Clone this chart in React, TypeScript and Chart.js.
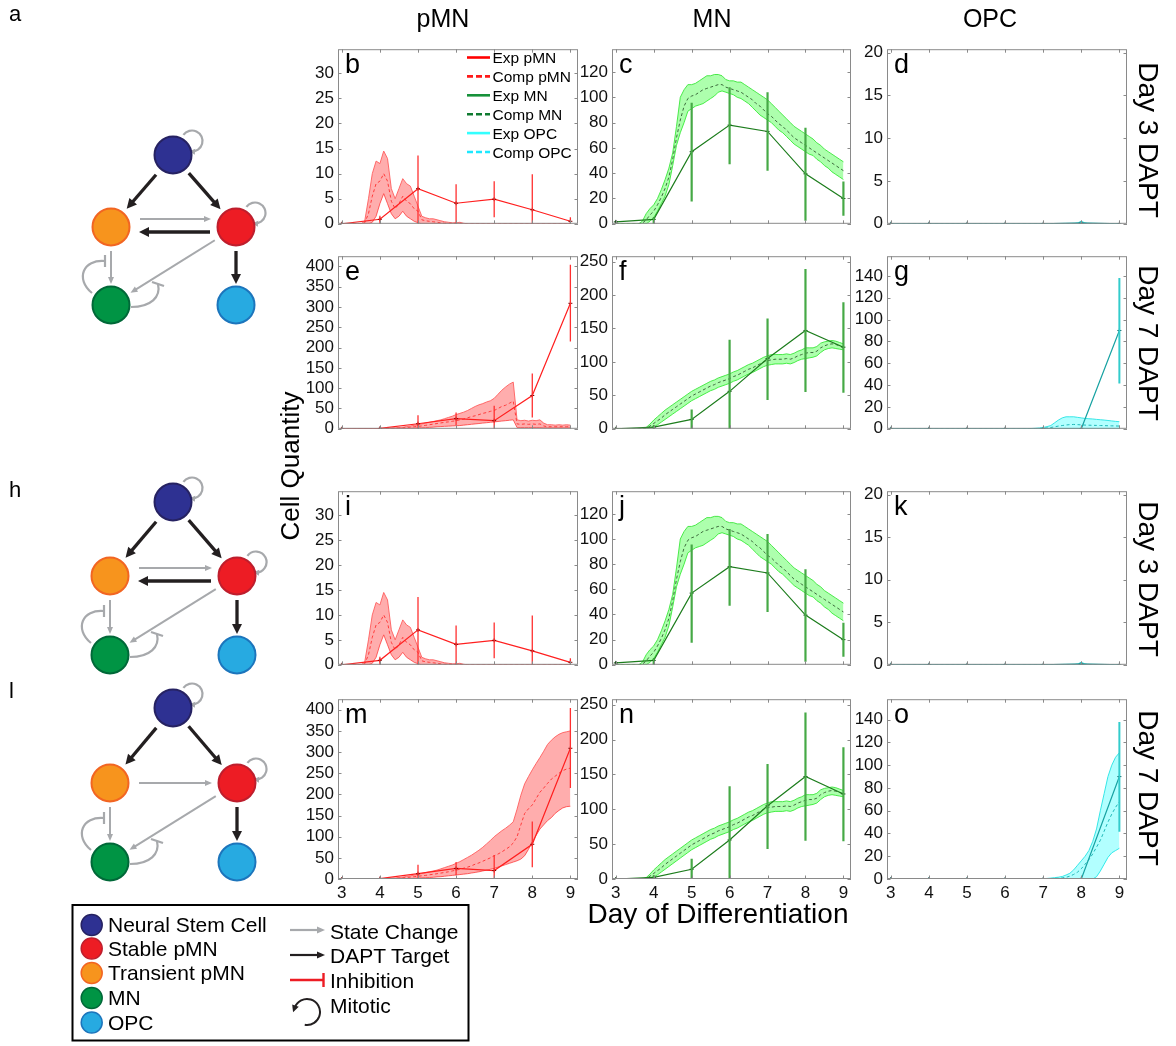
import React, { useEffect, useRef } from "react";
import { Chart, registerables } from "chart.js";

Chart.register(...registerables);

const FONT = '"Liberation Sans", Arial, Helvetica, sans-serif';
Chart.defaults.font.family = FONT;
Chart.defaults.color = "#111";

// ---------------- data ----------------
const X_TICKS = [3, 4, 5, 6, 7, 8, 9];
const DAYS = [3, 4, 5, 6, 7, 8, 9];
const COMP_DAYS = [
  3.0, 3.1, 3.2, 3.3, 3.4, 3.5, 3.6, 3.7, 3.8, 3.9,
  4.0, 4.1, 4.2, 4.3, 4.4, 4.5, 4.6, 4.7, 4.8, 4.9,
  5.0, 5.1, 5.2, 5.3, 5.4, 5.5, 5.6, 5.7, 5.8, 5.9,
  6.0, 6.1, 6.2, 6.3, 6.4, 6.5, 6.6, 6.7, 6.8, 6.9,
  7.0, 7.1, 7.2, 7.3, 7.4, 7.5, 7.6, 7.7, 7.8, 7.9,
  8.0, 8.1, 8.2, 8.3, 8.4, 8.5, 8.6, 8.7, 8.8, 8.9,
  9.0,
];

const Y_PMN_D3 = [0, 5, 10, 15, 20, 25, 30];
const Y_MN_D3 = [0, 20, 40, 60, 80, 100, 120];
const Y_OPC_D3 = [0, 5, 10, 15, 20];
const Y_PMN_D7 = [0, 50, 100, 150, 200, 250, 300, 350, 400];
const Y_MN_D7 = [0, 50, 100, 150, 200, 250];
const Y_OPC_D7 = [0, 20, 40, 60, 80, 100, 120, 140];

// experimental means and error bar ends (Day 3 DAPT)
const EXP_PMN_D3 = [0, 0.9, 7, 4.1, 4.9, 2.8, 0.5];
const EXP_PMN_D3_LO = [null, 0, 0, 0, 1.3, 0, 0];
const EXP_PMN_D3_HI = [null, 1.6, 13.6, 7.9, 8.5, 9.9, 1.3];
const EXP_MN_D3 = [1.5, 3.5, 57, 78, 73, 39.5, 20];
const EXP_MN_D3_LO = [null, 0, 17.6, 47, 42, 2.5, 6.3];
const EXP_MN_D3_HI = [null, 5, 95.6, 108, 104, 76, 33.5];
const EXP_OPC_D3 = [0, 0, 0, 0, 0, 0.1, 0];
const EXP_OPC_D3_LO = [null, null, null, null, null, 0, null];
const EXP_OPC_D3_HI = [null, null, null, null, null, 0.3, null];
// experimental (Day 7 DAPT)
const EXP_PMN_D7 = [0, 1, 12.5, 25, 20, 82, 309];
const EXP_PMN_D7_LO = [null, null, 0, 8.6, 0, 28, 215];
const EXP_PMN_D7_HI = [null, null, 33.5, 40, 57, 136, 404];
const EXP_MN_D7 = [0, 2.4, 14, 56, 105, 147, 122];
const EXP_MN_D7_LO = [null, 0, 0, 0, 43, 55, 54];
const EXP_MN_D7_HI = [null, 5, 29, 133, 165, 239, 189];
const EXP_OPC_D7 = [0, 0, 0, 0, 0, 0, 90];
const EXP_OPC_D7_LO = [null, null, null, null, null, null, 41.5];
const EXP_OPC_D7_HI = [null, null, null, null, null, null, 138];

// computational results (mean, lower, upper) on COMP_DAYS
const COMP_B_MEAN = [
  0, 0, 0, 0, 0, 0, 0.2, 2, 5.5, 8,
  8.5, 10, 8.5, 4.5, 3, 4, 5.5, 4.5, 4, 3,
  2.5, 0.8, 0.6, 0.5, 0.4, 0.3, 0.2, 0.1, 0.1, 0.1,
  0.1, 0.1, 0, 0, 0, 0, 0, 0, 0, 0,
  0, 0, 0, 0, 0, 0, 0, 0, 0, 0,
  0, 0, 0, 0, 0, 0, 0, 0, 0, 0,
  0,
];
const COMP_B_LO = [
  0, 0, 0, 0, 0, 0, 0, 0, 0.3, 1.5,
  4, 6, 4, 2, 1, 1.5, 2.5, 1.5, 1, 0.5,
  0.2, 0, 0, 0, 0, 0, 0, 0, 0, 0,
  0, 0, 0, 0, 0, 0, 0, 0, 0, 0,
  0, 0, 0, 0, 0, 0, 0, 0, 0, 0,
  0, 0, 0, 0, 0, 0, 0, 0, 0, 0,
  0,
];
const COMP_B_HI = [
  0, 0, 0, 0, 0, 0, 0.5, 5, 10, 12.5,
  12, 14.5, 13, 7, 5, 7, 9, 8, 7.5, 5.5,
  3.5, 1.5, 1.2, 1, 1, 0.8, 0.6, 0.4, 0.3, 0.2,
  0.2, 0.3, 0.1, 0, 0, 0, 0, 0, 0, 0,
  0, 0, 0, 0, 0, 0, 0, 0, 0, 0,
  0, 0, 0, 0, 0, 0, 0, 0, 0, 0,
  0,
];

const COMP_C_MEAN = [
  0, 0, 0, 0, 0, 0, 0, 0.5, 3, 7,
  10, 15, 21, 28, 37, 51, 68, 82, 93, 99,
  101, 102, 104, 106, 107, 108, 109, 110, 110, 108,
  107, 106, 105, 104, 102, 100, 98, 95, 93, 90,
  87, 85, 82, 79, 77, 74, 71, 68, 66, 64,
  62, 60, 58, 56, 54, 52, 50, 48, 46, 44,
  42,
];
const COMP_C_LO = [
  0, 0, 0, 0, 0, 0, 0, 0, 0, 2,
  5, 10, 16, 22, 31, 46, 62, 72, 80, 89,
  91, 93, 94, 95, 97, 99, 101, 104, 105, 104,
  103, 102, 100, 99, 97, 95, 92, 89, 86, 84,
  82, 80, 77, 74, 72, 69, 66, 63, 61, 59,
  57, 55, 54, 51, 49, 46, 44, 41, 39, 37,
  35,
];
const COMP_C_HI = [
  0, 0, 0, 0, 0, 0, 0, 2, 8, 12,
  15, 20, 27, 35, 44, 56, 77, 100, 106, 110,
  110, 111, 113, 115, 117, 117, 118, 118, 117, 114,
  113, 113, 112, 112, 110, 108, 106, 104, 102, 100,
  98, 95, 92, 89, 86, 83, 80, 77, 75, 73,
  71, 69, 67, 64, 62, 59, 57, 55, 53, 51,
  49,
];

const COMP_D_MEAN = [
  0, 0, 0, 0, 0, 0, 0, 0, 0, 0,
  0, 0, 0, 0, 0, 0, 0, 0, 0, 0,
  0, 0, 0, 0, 0, 0, 0, 0, 0, 0,
  0, 0, 0, 0, 0, 0, 0, 0, 0, 0,
  0, 0, 0, 0, 0, 0, 0, 0, 0, 0,
  0.1, 0, 0, 0, 0, 0, 0, 0, 0, 0,
  0,
];
const COMP_D_LO = [
  0, 0, 0, 0, 0, 0, 0, 0, 0, 0,
  0, 0, 0, 0, 0, 0, 0, 0, 0, 0,
  0, 0, 0, 0, 0, 0, 0, 0, 0, 0,
  0, 0, 0, 0, 0, 0, 0, 0, 0, 0,
  0, 0, 0, 0, 0, 0, 0, 0, 0, 0,
  0, 0, 0, 0, 0, 0, 0, 0, 0, 0,
  0,
];
const COMP_D_HI = [
  0, 0, 0, 0, 0, 0, 0, 0, 0, 0,
  0, 0, 0, 0, 0, 0, 0, 0, 0, 0,
  0, 0, 0, 0, 0, 0, 0, 0, 0, 0,
  0, 0, 0, 0, 0, 0, 0, 0, 0, 0,
  0, 0, 0, 0, 0, 0, 0, 0, 0, 0.1,
  0.3, 0.1, 0, 0, 0, 0, 0, 0, 0, 0,
  0,
];

const COMP_E_MEAN = [
  0, 0, 0, 0, 0, 0, 0, 0, 0, 0,
  0.2, 0.5, 0.8, 1, 1.5, 2, 2.5, 3.2, 4, 5,
  6, 7, 8.5, 10, 11.5, 13, 14.5, 16, 17, 18.5,
  20, 22, 24, 27, 30, 32, 35, 38, 40, 43,
  45, 50, 55, 58, 63, 68, 12, 11, 12, 11,
  12, 11, 12, 7, 5, 5, 5, 5, 5, 5,
  5,
];
const COMP_E_LO = [
  0, 0, 0, 0, 0, 0, 0, 0, 0, 0,
  0, 0, 0, 0.2, 0.3, 0.5, 0.7, 1, 1.2, 1.5,
  2, 2.5, 3, 3.5, 4, 5, 5.5, 6, 6.5, 7,
  7.5, 8, 9, 10, 11, 12, 13, 14, 15, 16,
  17, 18, 19, 20, 21, 22, 3, 3, 3, 3,
  3, 3, 3, 2, 2, 2, 2, 2, 2, 2,
  2,
];
const COMP_E_HI = [
  0, 0, 0, 0, 0, 0, 0, 0, 0, 0,
  0.5, 1, 1.5, 2, 2.5, 3, 4, 5.5, 7, 8.5,
  10, 12, 14, 16, 18, 20, 22, 25, 28, 31,
  35, 38, 41, 45, 50, 55, 59, 62, 66, 69,
  75, 85, 95, 103, 110, 115, 22, 20, 21, 19,
  21, 20, 22, 14, 10, 10, 9, 10, 9, 10,
  9,
];

const COMP_F_MEAN = [
  0, 0, 0, 0, 0, 0, 0, 0, 1, 4,
  8, 12, 16, 21, 25, 29, 33, 37, 41, 45,
  49, 52, 55, 58, 61, 64, 66, 69, 71, 73,
  75, 78, 80, 83, 86, 89, 91, 94, 97, 100,
  102, 103, 104, 104, 104, 105, 104, 106, 109, 111,
  113, 114, 114, 116, 121, 124, 126, 127, 126, 124,
  122,
];
const COMP_F_LO = [
  0, 0, 0, 0, 0, 0, 0, 0, 0, 1,
  3, 6, 10, 14, 18, 22, 26, 30, 34, 38,
  42, 45, 48, 51, 54, 57, 59, 62, 64, 66,
  68, 71, 73, 76, 79, 82, 84, 87, 90, 93,
  95, 96, 97, 97, 97, 98, 97, 99, 102, 104,
  105, 106, 107, 109, 114, 118, 120, 121, 120, 119,
  118,
];
const COMP_F_HI = [
  0, 0, 0, 0, 0, 0, 0, 0, 2, 7,
  13, 18, 23, 28, 32, 36, 40, 44, 48, 52,
  56, 59, 62, 65, 68, 71, 73, 76, 78, 80,
  82, 85, 87, 90, 93, 96, 98, 101, 104, 107,
  109, 111, 111, 111, 111, 112, 111, 113, 116, 118,
  121, 121, 121, 123, 128, 130, 131, 132, 131, 129,
  127,
];

const COMP_G_MEAN = [
  0, 0, 0, 0, 0, 0, 0, 0, 0, 0,
  0, 0, 0, 0, 0, 0, 0, 0, 0, 0,
  0, 0, 0, 0, 0, 0, 0, 0, 0, 0,
  0, 0, 0, 0, 0, 0, 0, 0.1, 0.2, 0.3,
  0.5, 0.8, 1.2, 1.8, 2.5, 3, 3.5, 3.8, 4, 3.8,
  3.6, 3.4, 3.3, 3.2, 3.1, 3, 2.9, 2.8, 2.7, 2.6,
  2.5,
];
const COMP_G_LO = [
  0, 0, 0, 0, 0, 0, 0, 0, 0, 0,
  0, 0, 0, 0, 0, 0, 0, 0, 0, 0,
  0, 0, 0, 0, 0, 0, 0, 0, 0, 0,
  0, 0, 0, 0, 0, 0, 0, 0, 0, 0,
  0, 0, 0, 0, 0, 0, 0.2, 0.3, 0.3, 0.3,
  0.3, 0.3, 0.3, 0.3, 0.3, 0.3, 0.3, 0.3, 0.3, 0.3,
  0.3,
];
const COMP_G_HI = [
  0, 0, 0, 0, 0, 0, 0, 0, 0, 0,
  0, 0, 0, 0, 0, 0, 0, 0, 0, 0,
  0, 0, 0, 0, 0, 0, 0, 0, 0, 0,
  0, 0, 0, 0, 0, 0, 0.2, 0.3, 0.5, 0.8,
  1.2, 2, 3, 5.5, 8, 10, 11, 11, 11, 10.5,
  10, 9.5, 9.2, 9, 8.6, 8.3, 8, 7.6, 7.2, 6.8,
  6.5,
];

const COMP_M_MEAN = [
  0, 0, 0, 0, 0, 0, 0, 0, 0, 0,
  0.2, 0.5, 0.8, 1.1, 1.5, 2, 2.7, 3.5, 4.5, 5.5,
  6.5, 7.5, 8.5, 10, 11, 12.5, 14, 15.5, 17, 19,
  21, 23, 25.5, 28, 31, 35, 38, 42, 46, 50,
  55, 59, 64, 70, 76, 85, 100, 128, 155, 166,
  175, 190, 205, 215, 226, 236, 243, 250, 256, 260,
  262,
];
const COMP_M_LO = [
  0, 0, 0, 0, 0, 0, 0, 0, 0, 0,
  0, 0.1, 0.2, 0.3, 0.4, 0.6, 0.8, 1, 1.3, 1.6,
  2, 2.5, 3, 3.5, 4, 5, 5.5, 6.5, 7.5, 8.5,
  9.5, 10.5, 11.5, 12.5, 14, 15.5, 17, 19, 21, 23,
  25, 28, 31, 34, 37, 40, 43, 47, 55, 70,
  88, 103, 118, 128, 138, 145, 155, 162, 168, 171,
  172,
];
const COMP_M_HI = [
  0, 0, 0, 0, 0, 0, 0, 0, 0, 0,
  0.5, 1, 1.5, 2, 2.5, 3.5, 4.5, 6, 7.5, 9,
  11, 13, 15, 17, 19, 21, 24, 27, 30, 33,
  37, 41, 46, 51, 56, 62, 68, 75, 83, 91,
  100, 107, 114, 120, 127, 135, 165, 198, 225, 242,
  258, 273, 287, 302, 318, 328, 336, 342, 346, 348,
  350,
];

const COMP_O_MEAN = [
  0, 0, 0, 0, 0, 0, 0, 0, 0, 0,
  0, 0, 0, 0, 0, 0, 0, 0, 0, 0,
  0, 0, 0, 0, 0, 0, 0, 0, 0, 0,
  0, 0, 0, 0, 0, 0, 0, 0, 0, 0,
  0.1, 0.2, 0.3, 0.5, 0.7, 1, 1.5, 2.5, 4, 6,
  9, 13, 17, 22, 28, 34, 42, 50, 57, 63,
  68,
];
const COMP_O_LO = [
  0, 0, 0, 0, 0, 0, 0, 0, 0, 0,
  0, 0, 0, 0, 0, 0, 0, 0, 0, 0,
  0, 0, 0, 0, 0, 0, 0, 0, 0, 0,
  0, 0, 0, 0, 0, 0, 0, 0, 0, 0,
  0, 0, 0, 0, 0, 0, 0, 0, 0, 0,
  0, 0, 0, 0, 2, 7, 13, 19, 23, 25,
  27,
];
const COMP_O_HI = [
  0, 0, 0, 0, 0, 0, 0, 0, 0, 0,
  0, 0, 0, 0, 0, 0, 0, 0, 0, 0,
  0, 0, 0, 0, 0, 0, 0, 0, 0, 0,
  0, 0, 0, 0, 0, 0, 0, 0, 0, 0,
  0.3, 0.5, 0.8, 1.2, 1.6, 2.2, 3.5, 5, 8, 12,
  16, 20, 25, 33, 44, 60, 75, 90, 100, 107,
  111,
];

// ---------------- styles / layout ----------------
const STYLE: any = {
  pmn: { exp: "#ff1f1f", err: "#ff3030", errW: 1.3, mark: "#7a0000", mean: "#ff3b3b", edge: "#ff5c5c", fill: "rgba(255,0,0,0.32)" },
  mn: { exp: "#1d7d1d", err: "#46a946", errW: 2.2, mark: "#0b3d0b", mean: "#3d6b3d", edge: "#3be63b", fill: "rgba(40,255,40,0.38)" },
  opc: { exp: "#17a2a2", err: "#33cccc", errW: 2, mark: "#0b5c5c", mean: "#1fb8b8", edge: "#22e3e3", fill: "rgba(0,255,255,0.3)" },
};

const COL_LEFT = [338, 612, 887];
const COL_W = [240, 239, 240];
const ROW_TOP = [45, 252, 487, 695];
const ROW_H = [183, 181, 182, 184];
const Y_AXIS_W = 48;
const PAD_TOP = 10;
const PAD_RIGHT = 8;
const PAD_BOTTOM = 10;
const X_AXIS_H = 26;
const TICK_FONT = 17;

const PANELS = [
  { letter: "b", row: 0, col: 0, kind: "pmn", exp: EXP_PMN_D3, lo: EXP_PMN_D3_LO, hi: EXP_PMN_D3_HI, mean: COMP_B_MEAN, bLo: COMP_B_LO, bHi: COMP_B_HI, yTicks: Y_PMN_D3, yMax: 34.8 },
  { letter: "c", row: 0, col: 1, kind: "mn", exp: EXP_MN_D3, lo: EXP_MN_D3_LO, hi: EXP_MN_D3_HI, mean: COMP_C_MEAN, bLo: COMP_C_LO, bHi: COMP_C_HI, yTicks: Y_MN_D3, yMax: 138 },
  { letter: "d", row: 0, col: 2, kind: "opc", exp: EXP_OPC_D3, lo: EXP_OPC_D3_LO, hi: EXP_OPC_D3_HI, mean: COMP_D_MEAN, bLo: COMP_D_LO, bHi: COMP_D_HI, yTicks: Y_OPC_D3, yMax: 20.4 },
  { letter: "e", row: 1, col: 0, kind: "pmn", exp: EXP_PMN_D7, lo: EXP_PMN_D7_LO, hi: EXP_PMN_D7_HI, mean: COMP_E_MEAN, bLo: COMP_E_LO, bHi: COMP_E_HI, yTicks: Y_PMN_D7, yMax: 425 },
  { letter: "f", row: 1, col: 1, kind: "mn", exp: EXP_MN_D7, lo: EXP_MN_D7_LO, hi: EXP_MN_D7_HI, mean: COMP_F_MEAN, bLo: COMP_F_LO, bHi: COMP_F_HI, yTicks: Y_MN_D7, yMax: 258 },
  { letter: "g", row: 1, col: 2, kind: "opc", exp: EXP_OPC_D7, lo: EXP_OPC_D7_LO, hi: EXP_OPC_D7_HI, mean: COMP_G_MEAN, bLo: COMP_G_LO, bHi: COMP_G_HI, yTicks: Y_OPC_D7, yMax: 158 },
  { letter: "i", row: 2, col: 0, kind: "pmn", exp: EXP_PMN_D3, lo: EXP_PMN_D3_LO, hi: EXP_PMN_D3_HI, mean: COMP_B_MEAN, bLo: COMP_B_LO, bHi: COMP_B_HI, yTicks: Y_PMN_D3, yMax: 34.8 },
  { letter: "j", row: 2, col: 1, kind: "mn", exp: EXP_MN_D3, lo: EXP_MN_D3_LO, hi: EXP_MN_D3_HI, mean: COMP_C_MEAN, bLo: COMP_C_LO, bHi: COMP_C_HI, yTicks: Y_MN_D3, yMax: 138 },
  { letter: "k", row: 2, col: 2, kind: "opc", exp: EXP_OPC_D3, lo: EXP_OPC_D3_LO, hi: EXP_OPC_D3_HI, mean: COMP_D_MEAN, bLo: COMP_D_LO, bHi: COMP_D_HI, yTicks: Y_OPC_D3, yMax: 20.4 },
  { letter: "m", row: 3, col: 0, kind: "pmn", exp: EXP_PMN_D7, lo: EXP_PMN_D7_LO, hi: EXP_PMN_D7_HI, mean: COMP_M_MEAN, bLo: COMP_M_LO, bHi: COMP_M_HI, yTicks: Y_PMN_D7, yMax: 425 },
  { letter: "n", row: 3, col: 1, kind: "mn", exp: EXP_MN_D7, lo: EXP_MN_D7_LO, hi: EXP_MN_D7_HI, mean: COMP_F_MEAN, bLo: COMP_F_LO, bHi: COMP_F_HI, yTicks: Y_MN_D7, yMax: 258 },
  { letter: "o", row: 3, col: 2, kind: "opc", exp: EXP_OPC_D7, lo: EXP_OPC_D7_LO, hi: EXP_OPC_D7_HI, mean: COMP_O_MEAN, bLo: COMP_O_LO, bHi: COMP_O_HI, yTicks: Y_OPC_D7, yMax: 158 },
];

const toPts = (xs: number[], ys: number[]) => xs.map((x, i) => ({ x, y: ys[i] }));

// error bars + MATLAB-like box with inward ticks
const matlabAxes = {
  id: "matlabAxes",
  afterDatasetsDraw(chart: any) {
    const { ctx, chartArea: a } = chart;
    const xs = chart.scales.x;
    const ys = chart.scales.y;
    ctx.save();
    ctx.beginPath();
    ctx.rect(a.left, a.top - 1, a.right - a.left, a.bottom - a.top + 2);
    ctx.clip();
    chart.data.datasets.forEach((ds: any) => {
      if (!ds.errLo) return;
      ctx.strokeStyle = ds.errColor;
      ctx.lineWidth = ds.errWidth;
      ds.data.forEach((pt: any, j: number) => {
        const lo = ds.errLo[j];
        const hi = ds.errHi[j];
        if (lo == null || hi == null) return;
        const px = xs.getPixelForValue(pt.x);
        ctx.beginPath();
        ctx.moveTo(px, ys.getPixelForValue(lo));
        ctx.lineTo(px, ys.getPixelForValue(hi));
        ctx.stroke();
      });
    });
    ctx.restore();

    ctx.save();
    ctx.strokeStyle = "#8a8a8a";
    ctx.lineWidth = 1;
    ctx.strokeRect(a.left + 0.5, a.top + 0.5, a.right - a.left - 1, a.bottom - a.top - 1);
    const TL = 3.5;
    ctx.beginPath();
    xs.ticks.forEach((t: any) => {
      const px = Math.round(xs.getPixelForValue(t.value)) + 0.5;
      ctx.moveTo(px, a.bottom);
      ctx.lineTo(px, a.bottom - TL);
      ctx.moveTo(px, a.top);
      ctx.lineTo(px, a.top + TL);
    });
    ys.ticks.forEach((t: any) => {
      const py = Math.round(ys.getPixelForValue(t.value)) + 0.5;
      ctx.moveTo(a.left, py);
      ctx.lineTo(a.left + TL, py);
      ctx.moveTo(a.right, py);
      ctx.lineTo(a.right - TL, py);
    });
    ctx.stroke();
    ctx.restore();
  },
};

function makeConfig(p: any, bottomRow: boolean): any {
  const st = STYLE[p.kind];
  return {
    type: "line",
    data: {
      datasets: [
        {
          label: "Exp",
          data: toPts(DAYS, p.exp),
          borderColor: st.exp,
          borderWidth: 1.2,
          pointRadius: 2,
          pointStyle: "cross",
          pointBorderColor: st.mark,
          pointBorderWidth: 1,
          fill: false,
          errLo: p.lo,
          errHi: p.hi,
          errColor: st.err,
          errWidth: st.errW,
        },
        {
          label: "Comp",
          data: toPts(COMP_DAYS, p.mean),
          borderColor: st.mean,
          borderWidth: 1,
          borderDash: [3, 2.5],
          pointRadius: 0,
          fill: false,
        },
        {
          label: "Comp upper",
          data: toPts(COMP_DAYS, p.bHi),
          borderColor: st.edge,
          borderWidth: 0.9,
          pointRadius: 0,
          fill: "+1",
          backgroundColor: st.fill,
        },
        {
          label: "Comp lower",
          data: toPts(COMP_DAYS, p.bLo),
          borderColor: st.edge,
          borderWidth: 0.9,
          pointRadius: 0,
          fill: false,
        },
      ],
    },
    options: {
      animation: false,
      responsive: false,
      maintainAspectRatio: false,
      events: [],
      layout: { padding: { top: PAD_TOP, right: PAD_RIGHT, bottom: bottomRow ? 0 : PAD_BOTTOM, left: 0 } },
      elements: { line: { tension: 0 } },
      plugins: { legend: { display: false }, tooltip: { enabled: false }, filler: { propagate: false } },
      scales: {
        x: {
          type: "linear",
          min: 2.9,
          max: 9.2,
          grid: { display: false, drawTicks: false },
          border: { display: false },
          ticks: {
            display: bottomRow,
            autoSkip: false,
            maxRotation: 0,
            padding: 4,
            color: "#111",
            font: { size: TICK_FONT, family: FONT },
            callback: (v: any) => String(v),
          },
          afterBuildTicks: (s: any) => {
            s.ticks = X_TICKS.map((v) => ({ value: v }));
          },
          afterFit: (s: any) => {
            s.height = bottomRow ? X_AXIS_H : 0;
          },
        },
        y: {
          type: "linear",
          min: 0,
          max: p.yMax,
          grid: { display: false, drawTicks: false },
          border: { display: false },
          ticks: {
            autoSkip: false,
            padding: 4,
            color: "#111",
            font: { size: TICK_FONT, family: FONT },
            callback: (v: any) => String(v),
          },
          afterBuildTicks: (s: any) => {
            s.ticks = p.yTicks.map((v: number) => ({ value: v }));
          },
          afterFit: (s: any) => {
            s.width = Y_AXIS_W;
          },
        },
      },
    },
    plugins: [matlabAxes],
  };
}

function Panel({ p }: { p: any }) {
  const ref = useRef<HTMLCanvasElement>(null);
  const bottomRow = p.row === 3;
  const left = COL_LEFT[p.col] - Y_AXIS_W;
  const top = ROW_TOP[p.row] - PAD_TOP;
  const w = COL_W[p.col] + Y_AXIS_W + PAD_RIGHT;
  const h = ROW_H[p.row] + PAD_TOP + (bottomRow ? X_AXIS_H : PAD_BOTTOM);
  useEffect(() => {
    const chart = new Chart(ref.current as HTMLCanvasElement, makeConfig(p, bottomRow));
    return () => chart.destroy();
  }, []);
  return (
    <canvas
      ref={ref}
      width={w}
      height={h}
      style={{ position: "absolute", left, top, width: w, height: h }}
    />
  );
}

// ---------------- text helpers ----------------
function Txt({ x, y, size, children, center }: any) {
  return (
    <div
      style={{
        position: "absolute",
        left: x,
        top: y - 0.8305 * size,
        fontSize: size,
        lineHeight: `${size}px`,
        whiteSpace: "nowrap",
        transform: center ? "translateX(-50%)" : undefined,
        color: "#000",
      }}
    >
      {children}
    </div>
  );
}

function RotTxt({ x, y, size, deg, children }: any) {
  return (
    <div
      style={{
        position: "absolute",
        left: x,
        top: y,
        fontSize: size,
        lineHeight: `${size}px`,
        whiteSpace: "nowrap",
        transform: `translate(-50%, -50%) rotate(${deg}deg)`,
        color: "#000",
      }}
    >
      {children}
    </div>
  );
}

// ---------------- diagrams ----------------
const BLK = "#231f20";
const GRY = "#a7a9ac";

function Arrow({ x1, y1, x2, y2, color, w, hl, hw }: any) {
  const dx = x2 - x1;
  const dy = y2 - y1;
  const L = Math.hypot(dx, dy);
  const ux = dx / L;
  const uy = dy / L;
  const bx = x2 - ux * hl;
  const by = y2 - uy * hl;
  const px = -uy;
  const py = ux;
  return (
    <g>
      <line x1={x1} y1={y1} x2={bx + ux} y2={by + uy} stroke={color} strokeWidth={w} />
      <polygon
        points={`${x2},${y2} ${bx + (px * hw) / 2},${by + (py * hw) / 2} ${bx - (px * hw) / 2},${by - (py * hw) / 2}`}
        fill={color}
      />
    </g>
  );
}

function between(ax: number, ay: number, bx: number, by: number, sa: number, sb: number) {
  const L = Math.hypot(bx - ax, by - ay);
  const ux = (bx - ax) / L;
  const uy = (by - ay) / L;
  return { x1: ax + ux * sa, y1: ay + uy * sa, x2: bx - ux * sb, y2: by - uy * sb };
}

function Loop({ cx, cy }: any) {
  const ox = cx + 19;
  const oy = cy - 14;
  const r = 10.5;
  const a0 = (215 * Math.PI) / 180;
  const a1 = (95 * Math.PI) / 180;
  const sx = ox + r * Math.cos(a0);
  const sy = oy + r * Math.sin(a0);
  const ex = ox + r * Math.cos(a1);
  const ey = oy + r * Math.sin(a1);
  const tx = -Math.sin(a1);
  const ty = Math.cos(a1);
  const tipx = ex + tx * 2;
  const tipy = ey + ty * 2;
  const bx = tipx - tx * 6;
  const by = tipy - ty * 6;
  return (
    <g>
      <path d={`M ${sx} ${sy} A ${r} ${r} 0 1 1 ${ex} ${ey}`} fill="none" stroke={GRY} strokeWidth={2.2} />
      <polygon points={`${tipx},${tipy} ${bx - ty * 3},${by + tx * 3} ${bx + ty * 3},${by - tx * 3}`} fill={GRY} />
    </g>
  );
}

function Node({ cx, cy, fill, stroke }: any) {
  return <circle cx={cx} cy={cy} r={18.5} fill={fill} stroke={stroke} strokeWidth={2} />;
}

function Diagram({ d }: any) {
  const { nx, ny, lx, rx, y2, y3, black } = d;
  const a1 = between(nx, ny, lx, y2, 26, 24);
  const a2 = between(nx, ny, rx, y2, 24, 23.5);
  const a3 = between(rx, y2, lx, y3, 25, 23);
  return (
    <g>
      <Arrow {...a1} color={BLK} w={3.3} hl={10} hw={10} />
      <Arrow {...a2} color={BLK} w={3.3} hl={10} hw={10} />
      {black ? (
        <>
          <Arrow x1={lx + 29} y1={y2 - 8} x2={rx - 25} y2={y2 - 8} color={GRY} w={2} hl={7} hw={6} />
          <Arrow x1={rx - 26} y1={y2 + 5} x2={lx + 28} y2={y2 + 5} color={BLK} w={3.3} hl={10} hw={10} />
        </>
      ) : (
        <Arrow x1={lx + 29} y1={y2} x2={rx - 25} y2={y2} color={GRY} w={2} hl={7} hw={6} />
      )}
      <Arrow x1={lx} y1={y2 + 24} x2={lx} y2={y3 - 21} color={GRY} w={2} hl={7} hw={6} />
      <Arrow {...a3} color={GRY} w={2} hl={7} hw={6} />
      <Arrow x1={rx} y1={y2 + 24} x2={rx} y2={y3 - 21} color={BLK} w={3.3} hl={10} hw={10} />
      {/* inhibition loops around MN */}
      <path
        d={`M ${lx - 19} ${y3 - 12} C ${lx - 36} ${y3 - 26} ${lx - 28} ${y3 - 46} ${lx - 6} ${y3 - 44}`}
        fill="none"
        stroke={GRY}
        strokeWidth={2.2}
      />
      <line x1={lx - 6} y1={y3 - 50} x2={lx - 6} y2={y3 - 38} stroke={GRY} strokeWidth={2.2} />
      <path
        d={`M ${lx + 20} ${y3 + 2} C ${lx + 40} ${y3 + 2} ${lx + 50} ${y3 - 8} ${lx + 47} ${y3 - 21}`}
        fill="none"
        stroke={GRY}
        strokeWidth={2.2}
      />
      <line x1={lx + 41} y1={y3 - 23} x2={lx + 53} y2={y3 - 19} stroke={GRY} strokeWidth={2.2} />
      <Loop cx={nx} cy={ny} />
      <Loop cx={rx} cy={y2} />
      <Node cx={nx} cy={ny} fill="#2e3192" stroke="#262262" />
      <Node cx={lx} cy={y2} fill="#f7941d" stroke="#f26522" />
      <Node cx={rx} cy={y2} fill="#ed1c24" stroke="#be1e2d" />
      <Node cx={lx} cy={y3} fill="#009444" stroke="#006838" />
      <Node cx={rx} cy={y3} fill="#27aae1" stroke="#1c75bc" />
    </g>
  );
}

const DIAG_A = { nx: 173, ny: 155, lx: 111, rx: 236, y2: 227, y3: 305, black: true };
const DIAG_H = { nx: 173, ny: 502, lx: 110, rx: 237, y2: 576, y3: 655, black: true };
const DIAG_L = { nx: 173, ny: 708, lx: 110, rx: 237, y2: 783, y3: 862, black: false };

const KEY_CELLS = [
  { label: "Neural Stem Cell", fill: "#2e3192", stroke: "#262262" },
  { label: "Stable pMN", fill: "#ed1c24", stroke: "#be1e2d" },
  { label: "Transient pMN", fill: "#f7941d", stroke: "#f26522" },
  { label: "MN", fill: "#009444", stroke: "#006838" },
  { label: "OPC", fill: "#27aae1", stroke: "#1c75bc" },
];
const KEY_CELL_Y = [925, 948.5, 973, 998, 1022.5];

const LEGEND_ITEMS = [
  { label: "Exp pMN", color: "#ff0000", dash: false },
  { label: "Comp pMN", color: "#ff1a1a", dash: true },
  { label: "Exp MN", color: "#16913a", dash: false },
  { label: "Comp MN", color: "#0f7a30", dash: true },
  { label: "Exp OPC", color: "#33ffff", dash: false },
  { label: "Comp OPC", color: "#1ee8ff", dash: true },
];

function Overlay() {
  const mx = 307;
  const my = 1012;
  const mr = 13;
  const d2r = Math.PI / 180;
  const ms = { x: mx + mr * Math.cos(100 * d2r), y: my + mr * Math.sin(100 * d2r) };
  const me = { x: mx + mr * Math.cos(200 * d2r), y: my + mr * Math.sin(200 * d2r) };
  const mt = { x: Math.sin(200 * d2r), y: -Math.cos(200 * d2r) };
  return (
    <svg
      width={1176}
      height={1046}
      style={{ position: "absolute", left: 0, top: 0, pointerEvents: "none" }}
      fontFamily={FONT}
    >
      <Diagram d={DIAG_A} />
      <Diagram d={DIAG_H} />
      <Diagram d={DIAG_L} />

      {/* key box */}
      <rect x={72.5} y={905} width={396} height={135.5} fill="#fff" stroke="#000" strokeWidth={2} />
      {KEY_CELLS.map((c, i) => (
        <g key={c.label}>
          <circle cx={91.7} cy={KEY_CELL_Y[i]} r={10.5} fill={c.fill} stroke={c.stroke} strokeWidth={1.5} />
          <text x={108} y={KEY_CELL_Y[i] + 7} fontSize={21} fill="#000">
            {c.label}
          </text>
        </g>
      ))}
      <Arrow x1={290} y1={930} x2={325} y2={930} color={GRY} w={2.2} hl={8} hw={7} />
      <text x={330} y={938.5} fontSize={21} fill="#000">State Change</text>
      <Arrow x1={290} y1={955} x2={325} y2={955} color={BLK} w={2.2} hl={8} hw={7} />
      <text x={330} y={963} fontSize={21} fill="#000">DAPT Target</text>
      <line x1={290} y1={980} x2={323} y2={980} stroke="#ed1c24" strokeWidth={2.4} />
      <line x1={323.5} y1={973} x2={323.5} y2={987} stroke="#ed1c24" strokeWidth={2.4} />
      <text x={330} y={988} fontSize={21} fill="#000">Inhibition</text>
      <path
        d={`M ${ms.x} ${ms.y} A ${mr} ${mr} 0 1 0 ${me.x} ${me.y}`}
        fill="none"
        stroke={BLK}
        strokeWidth={2}
      />
      <polygon
        points={`${me.x + mt.x * 5},${me.y + mt.y * 5} ${me.x - mt.x * 2 - mt.y * 3.5},${me.y - mt.y * 2 + mt.x * 3.5} ${me.x - mt.x * 2 + mt.y * 3.5},${me.y - mt.y * 2 - mt.x * 3.5}`}
        fill={BLK}
      />
      <text x={330} y={1013} fontSize={21} fill="#000">Mitotic</text>

      {/* legend of panel b */}
      {LEGEND_ITEMS.map((it, i) => {
        const y = 57.5 + i * 18.9;
        return (
          <g key={it.label}>
            <line
              x1={467}
              y1={y}
              x2={490}
              y2={y}
              stroke={it.color}
              strokeWidth={2.6}
              strokeDasharray={it.dash ? "6 3" : undefined}
            />
            <text x={492.5} y={y + 5.6} fontSize={15.5} fill="#000">
              {it.label}
            </text>
          </g>
        );
      })}
    </svg>
  );
}

export default function App() {
  return (
    <div
      style={{
        position: "absolute",
        left: 0,
        top: 0,
        width: 1176,
        height: 1046,
        background: "#fff",
        fontFamily: FONT,
        overflow: "hidden",
      }}
    >
      {PANELS.map((p) => (
        <Panel key={p.letter} p={p} />
      ))}
      {PANELS.map((p) => (
        <Txt key={"L" + p.letter} x={COL_LEFT[p.col] + 7} y={ROW_TOP[p.row] + 28} size={27}>
          {p.letter}
        </Txt>
      ))}
      <Overlay />
      <Txt x={443} y={26.5} size={25} center>pMN</Txt>
      <Txt x={712} y={26.5} size={25} center>MN</Txt>
      <Txt x={990} y={26.5} size={25} center>OPC</Txt>
      <Txt x={9} y={21} size={22}>a</Txt>
      <Txt x={9} y={497} size={22}>h</Txt>
      <Txt x={9} y={698} size={22}>l</Txt>
      <Txt x={718} y={923} size={28} center>Day of Differentiation</Txt>
      <RotTxt x={290} y={466} size={26} deg={-90}>Cell Quantity</RotTxt>
      <RotTxt x={1148} y={140} size={28} deg={90}>Day 3 DAPT</RotTxt>
      <RotTxt x={1148} y={343} size={28} deg={90}>Day 7 DAPT</RotTxt>
      <RotTxt x={1148} y={579} size={28} deg={90}>Day 3 DAPT</RotTxt>
      <RotTxt x={1148} y={788} size={28} deg={90}>Day 7 DAPT</RotTxt>
    </div>
  );
}
